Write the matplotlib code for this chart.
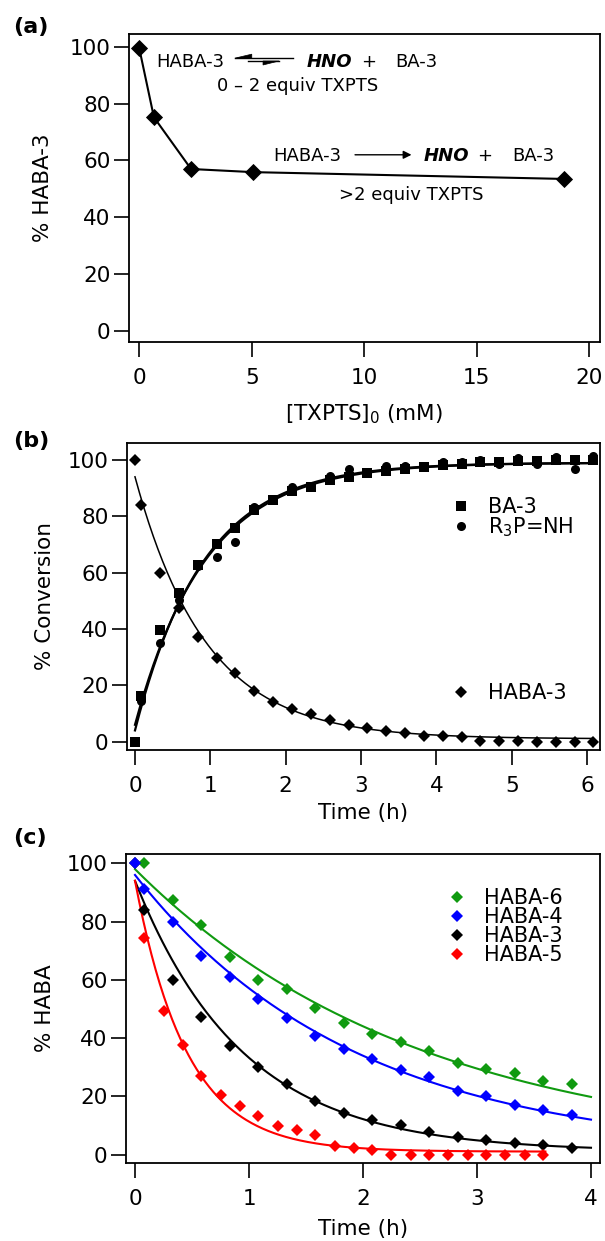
import numpy as np
import matplotlib
matplotlib.use('Agg')
import matplotlib.pyplot as plt
from matplotlib.patches import Polygon

plt.rcParams['font.family'] = ['DejaVu Sans']
plt.rcParams['mathtext.fontset'] = 'dejavusans'

# ---------------- data ----------------
# Panel (a)
txpts_mM = [0.0, 0.65, 2.3, 5.05, 18.9]
haba3_pct_a = [99.4, 75.2, 57.0, 55.9, 53.5]

# Panel (b)
time_b = [0, 0.083, 0.333, 0.583, 0.833, 1.083, 1.333, 1.583, 1.833, 2.083,
          2.333, 2.583, 2.833, 3.083, 3.333, 3.583, 3.833, 4.083, 4.333,
          4.583, 4.833, 5.083, 5.333, 5.583, 5.833, 6.083]
haba3_b = [100, 83.9, 60, 47.3, 37, 29.8, 24.5, 18.1, 14.2, 11.7, 9.7, 7.7,
           5.8, 4.7, 3.9, 3.2, 2.0, 2.0, 1.5, 0.4, 0.4, 0.4, 0, 0, 0, 0]
ba3_b = [0, 16.2, 39.6, 52.9, 62.8, 70.2, 76, 82.1, 85.8, 88.8, 90.5, 92.9,
         94.1, 95.3, 96.1, 96.8, 97.6, 98.2, 98.6, 99.4, 99.4, 99.6, 99.6,
         100, 100, 100]
time_b_r3p = time_b[1:]
r3pnh_b = [14.4, 35.1, 50.3, 62.4, 65.7, 71, 83.2, 85.8, 90.3, 90.8, 94.3,
           96.8, 95.5, 97.9, 97.9, 97.6, 99.2, 99.2, 100, 98.5, 100.6, 98.5,
           101, 96.7, 101.5]

# fits (y0, y_inf, rate, t_end)
fit_b_haba3 = (94, 1, 1.06, 6.08)
fit_b_ba3 = (4, 99, 1.10, 6.08)
fit_b_r3p = (6, 99, 1.06, 6.08)

# Panel (c)
time_c = [0, 0.083, 0.333, 0.583, 0.833, 1.083, 1.333, 1.583, 1.833, 2.083,
          2.333, 2.583, 2.833, 3.083, 3.333, 3.583, 3.833]
time_c6 = time_c[1:]
haba6_c = [100, 87.5, 78.9, 68.0, 60.0, 56.8, 50.2, 45.1, 41.3, 38.8, 35.6,
           31.5, 29.4, 28.1, 25.3, 24.2]
haba4_c = [100, 91.3, 79.7, 68.3, 60.8, 53.4, 46.8, 40.8, 36.4, 32.9, 29.0,
           26.5, 21.9, 20.1, 17.0, 15.3, 13.5]
haba3_c = [100, 83.8, 60.0, 47.4, 37.3, 29.9, 24.2, 18.3, 14.4, 11.8, 10.1,
           7.8, 6.1, 4.9, 4.1, 3.4, 2.1]
time_c5 = [0.083, 0.25, 0.417, 0.583, 0.75, 0.917, 1.083, 1.25, 1.417, 1.583,
           1.75, 1.917, 2.083, 2.25, 2.417, 2.583, 2.75, 2.917, 3.083, 3.25,
           3.417, 3.583]
haba5_c = [74.3, 49.4, 37.6, 26.9, 20.4, 16.6, 13.2, 9.7, 8.3, 6.8, 2.9, 2.3,
           1.5, 0, 0, 0, 0, 0, 0, 0, 0, 0]

fit_c_haba6 = (98, 0, 0.40, 4.0)
fit_c_haba4 = (96, 0, 0.52, 4.0)
fit_c_haba3 = (94, 1, 1.06, 4.0)
fit_c_haba5 = (94, 1, 2.20, 3.6)

GREEN = '#109a10'
BLUE = '#0000ff'
RED = '#ff0000'
BLACK = '#000000'


def fit_curve(params):
    y0, yinf, k, tend = params
    t = np.linspace(0, tend, 300)
    return t, yinf + (y0 - yinf) * np.exp(-k * t)


W, H = 605, 1241
fig = plt.figure(figsize=(W / 100, H / 100), dpi=100)


def make_ax(l, r, t, b):
    return fig.add_axes([l / W, 1 - b / H, (r - l) / W, (b - t) / H])


def style(ax):
    for s in ax.spines.values():
        s.set_linewidth(1.3)
    ax.tick_params(axis='both', direction='out', length=10.8, width=1.2,
                   labelsize=15.5, top=False, right=False)
    ax.tick_params(axis='x', pad=8.0)
    ax.tick_params(axis='y', pad=2.5)
    ax.set_yticks([0, 20, 40, 60, 80, 100])


LBL = 15.5

# ---------------- panel (a) ----------------
axa = make_ax(129, 600, 34, 342)
style(axa)
axa.plot(txpts_mM, haba3_pct_a, '-', color='black', lw=1.5,
         marker='D', ms=8.4, mew=0.6, mec='black', mfc='black')
axa.set_xlim(-0.458, 20.48)
axa.set_ylim(-3.87, 104.5)
axa.set_xticks([0, 5, 10, 15, 20])
axa.set_xlabel(r'[TXPTS]$_0$ (mM)', fontsize=LBL)
axa.xaxis.set_label_coords(0.5, -0.197)
axa.set_ylabel('% HABA-3', fontsize=LBL)
axa.yaxis.set_label_coords(-0.162, 0.5)

afs = 13
axa.text(0.74, 94.7, 'HABA-3', fontsize=afs, va='center', ha='left')
# equilibrium harpoons
axa.plot([4.25, 6.83], [96.0, 96.0], color='black', lw=1.0)
axa.add_patch(Polygon([[4.25, 96.0], [5.0, 97.4], [5.0, 96.0]],
                      closed=True, color='black', lw=0.5))
axa.plot([4.83, 6.21], [95.0, 95.0], color='black', lw=1.0)
axa.add_patch(Polygon([[6.21, 95.0], [5.5, 93.6], [5.5, 95.0]],
                      closed=True, color='black', lw=0.5))
axa.text(7.45, 94.7, 'HNO', fontsize=afs, fontweight='bold', style='italic',
         va='center', ha='left')
axa.text(10.2, 94.7, '+', fontsize=afs, va='center', ha='center')
axa.text(11.36, 94.7, 'BA-3', fontsize=afs, va='center', ha='left')
axa.text(7.05, 86.2, '0 – 2 equiv TXPTS', fontsize=afs, va='center',
         ha='center')

axa.text(5.94, 61.6, 'HABA-3', fontsize=afs, va='center', ha='left')
axa.annotate('', xy=(12.1, 62.0), xytext=(9.59, 62.0),
             arrowprops=dict(arrowstyle='-|>', color='black', lw=1.0,
                             mutation_scale=12, shrinkA=0, shrinkB=0))
axa.text(12.65, 61.6, 'HNO', fontsize=afs, fontweight='bold', style='italic',
         va='center', ha='left')
axa.text(15.36, 61.6, '+', fontsize=afs, va='center', ha='center')
axa.text(16.56, 61.6, 'BA-3', fontsize=afs, va='center', ha='left')
axa.text(12.08, 47.8, '>2 equiv TXPTS', fontsize=afs, va='center',
         ha='center')

# ---------------- panel (b) ----------------
axb = make_ax(127, 600, 443, 750)
style(axb)
t, y = fit_curve(fit_b_ba3)
axb.plot(t, y, color='black', lw=1.6)
t, y = fit_curve(fit_b_r3p)
axb.plot(t, y, color='black', lw=1.6)
t, y = fit_curve(fit_b_haba3)
axb.plot(t, y, color='black', lw=1.1)
hb, = axb.plot(time_b, ba3_b, 's', color='black', ms=7.3, mew=0,
               clip_on=False)
hr, = axb.plot(time_b_r3p, r3pnh_b, 'o', color='black', ms=6.5, mew=0,
               clip_on=False)
hh, = axb.plot(time_b, haba3_b, 'D', color='black', ms=6.0, mew=0,
               clip_on=False)
axb.set_xlim(-0.106, 6.17)
axb.set_ylim(-2.95, 106.0)
axb.set_xticks([0, 1, 2, 3, 4, 5, 6])
axb.set_xlabel('Time (h)', fontsize=LBL)
axb.xaxis.set_label_coords(0.5, -0.172)
axb.set_ylabel('% Conversion', fontsize=LBL)
axb.yaxis.set_label_coords(-0.152, 0.5)

lfs = 15
leg1 = axb.legend([hb, hr], ['BA-3', r'R$_3$P=NH'], loc='upper left',
                  bbox_to_anchor=(451 / W, 1 - 496.8 / H),
                  bbox_transform=fig.transFigure, frameon=False,
                  fontsize=lfs, handlelength=1.0, handletextpad=0.8,
                  borderpad=0, borderaxespad=0, labelspacing=-0.05,
                  numpoints=1)
axb.add_artist(leg1)
axb.legend([hh], ['HABA-3'], loc='upper left',
           bbox_to_anchor=(451 / W, 1 - 683.3 / H),
           bbox_transform=fig.transFigure, frameon=False,
           fontsize=lfs, handlelength=1.0, handletextpad=0.8,
           borderpad=0, borderaxespad=0, numpoints=1)

# ---------------- panel (c) ----------------
axc = make_ax(126, 600, 854, 1163)
style(axc)
for params, col in [(fit_c_haba6, GREEN), (fit_c_haba4, BLUE),
                    (fit_c_haba3, BLACK), (fit_c_haba5, RED)]:
    t, y = fit_curve(params)
    axc.plot(t, y, color=col, lw=1.5)
MSC = 6.2
h3, = axc.plot(time_c, haba3_c, 'D', color=BLACK, ms=MSC, mew=0,
               clip_on=False)
h6, = axc.plot(time_c6, haba6_c, 'D', color=GREEN, ms=MSC, mew=0,
               clip_on=False)
h4, = axc.plot(time_c, haba4_c, 'D', color=BLUE, ms=MSC, mew=0,
               clip_on=False)
h5, = axc.plot(time_c5, haba5_c, 'D', color=RED, ms=MSC, mew=0,
               clip_on=False)
axc.set_xlim(-0.079, 4.079)
axc.set_ylim(-2.9, 103.2)
axc.set_xticks([0, 1, 2, 3, 4])
axc.set_xlabel('Time (h)', fontsize=LBL)
axc.xaxis.set_label_coords(0.5, -0.180)
axc.set_ylabel('% HABA', fontsize=LBL)
axc.yaxis.set_label_coords(-0.150, 0.5)
axc.legend([h6, h4, h3, h5], ['HABA-6', 'HABA-4', 'HABA-3', 'HABA-5'],
           loc='upper left', bbox_to_anchor=(446.4 / W, 1 - 888 / H),
           bbox_transform=fig.transFigure, frameon=False, fontsize=lfs,
           handlelength=1.0, handletextpad=0.8, borderpad=0,
           borderaxespad=0, labelspacing=-0.05, numpoints=1)

# panel labels
for lab, ypx in [('(a)', 27), ('(b)', 441), ('(c)', 838)]:
    fig.text(13 / W, 1 - ypx / H, lab, fontsize=16, fontweight='bold',
             va='center', ha='left')

fig.savefig('out.png', dpi=100)
